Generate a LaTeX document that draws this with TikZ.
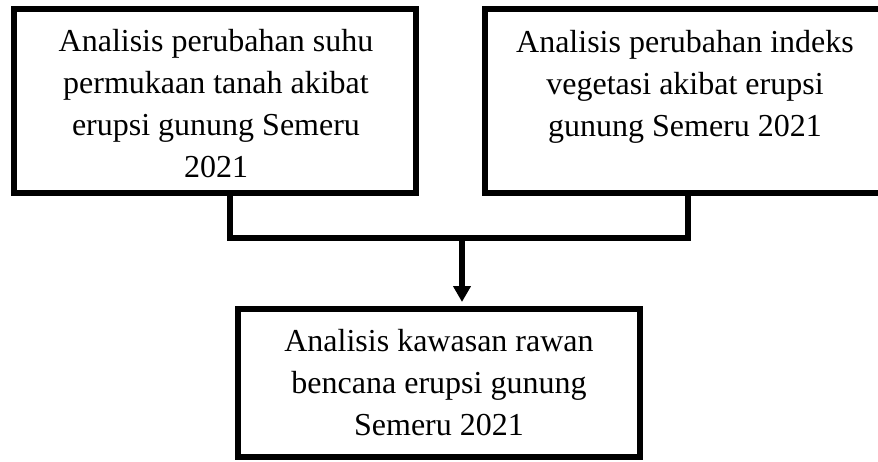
\documentclass[tikz,border=0pt]{standalone}
\usepackage{fontspec}
\setmainfont{Liberation Serif}
\usetikzlibrary{arrows.meta}
\newcommand{\boxlines}[1]{\begin{tabular}{@{}c@{}}#1\end{tabular}}
\begin{document}
\begin{tikzpicture}[x=1pt,y=-1pt,
  box/.style={draw,line width=6pt,rectangle,inner sep=0pt},
  txt/.style={anchor=north,inner sep=0pt,font=\fontsize{32}{42}\selectfont},
  conn/.style={line width=6pt,line join=miter}]
\useasboundingbox (0,0) rectangle (878,461);
\clip (0,0) rectangle (878,461);
\node[box,minimum width=402pt,minimum height=184pt] (L) at (215,101) {};
\node[box,minimum width=403pt,minimum height=184pt] (R) at (686.5,101) {};
\node[box,minimum width=402pt,minimum height=148pt] (B) at (439,383) {};
\node[txt] (Lt) at (216,21.6) {\boxlines{Analisis perubahan suhu\\permukaan tanah akibat\\erupsi gunung Semeru\\2021}};
\node[txt] (Rt) at (685,22.6) {\boxlines{Analisis perubahan indeks\\vegetasi akibat erupsi\\gunung Semeru 2021}};
\node[txt] (Bt) at (439,321.6) {\boxlines{Analisis kawasan rawan\\bencana erupsi gunung\\Semeru 2021}};
\coordinate (jl) at (230,238);
\coordinate (jr) at (688,238);
\coordinate (jm) at (462,238);
\draw[conn] (L.south -| jl) -- (jl) -- (jr) -- (R.south -| jr);
\draw[conn,-{Triangle[width=17pt,length=16pt]},shorten >=4pt] (jm) -- (jm |- B.north);
\end{tikzpicture}
\end{document}
